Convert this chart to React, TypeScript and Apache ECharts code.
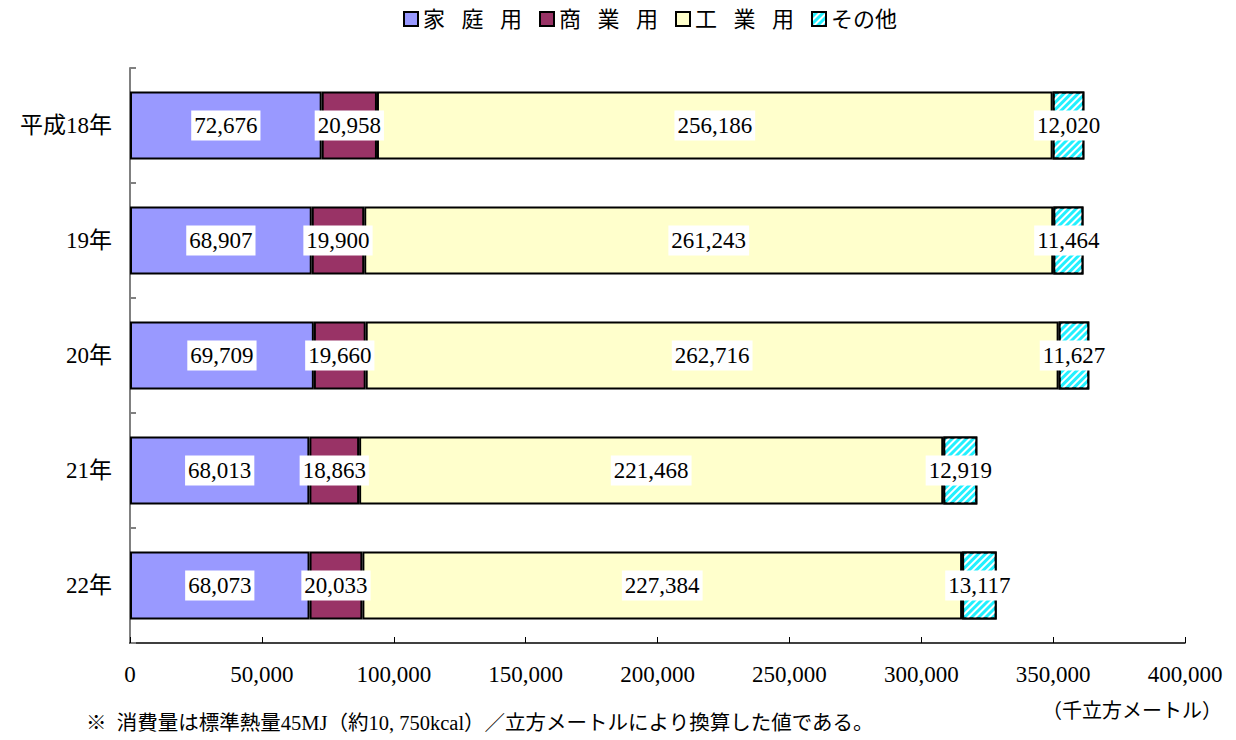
import React, { useEffect, useRef } from "react";
import * as echarts from "echarts";

const categories = ["平成18年", "19年", "20年", "21年", "22年"];
const SP = "\u2002\u2005";
const seriesNames = [`家${SP}庭${SP}用`, `商${SP}業${SP}用`, `工${SP}業${SP}用`, "その他"];
const household = [72676, 68907, 69709, 68013, 68073];
const commercial = [20958, 19900, 19660, 18863, 20033];
const industrial = [256186, 261243, 262716, 221468, 227384];
const other = [12020, 11464, 11627, 12919, 13117];
const colors = ["#9999FF", "#993366", "#FFFFCC", "#22F0FF"];
const unitText = "（千立方メートル）";
const noteText = "※  消費量は標準熱量45MJ（約10, 750kcal）／立方メートルにより換算した値である。";

const FONT = "'Liberation Serif', 'Noto Sans CJK JP', serif";
const fmt = (v: number) => v.toLocaleString("en-US");

export default function App() {
  const ref = useRef<HTMLDivElement>(null);
  useEffect(() => {
    if (!ref.current) return;
    const chart = echarts.init(ref.current, undefined, { renderer: "svg" });
    const dataSets = [household, commercial, industrial, other];
    const series = dataSets.map((d, i) => ({
      name: seriesNames[i],
      type: "bar",
      stack: "total",
      barWidth: 68,
      data: d,
      itemStyle: {
        color: colors[i],
        borderColor: "#000",
        borderWidth: 2,
        ...(i === 3
          ? {
              decal: {
                symbol: "rect",
                symbolSize: 1,
                color: "#ffffff",
                dashArrayX: [1, 0],
                dashArrayY: [1.5, 2.5],
                rotation: -Math.PI / 4,
              },
            }
          : {}),
      },
      label: {
        show: true,
        position: "inside",
        formatter: (p: any) => fmt(p.value),
        color: "#000",
        backgroundColor: "#fff",
        padding: [4, 3, 3, 3],
        fontFamily: FONT,
        fontSize: 23,
      },
    }));
    chart.setOption({
      animation: false,
      textStyle: { fontFamily: FONT },
      legend: {
        top: 3,
        left: 398,
        icon: "rect",
        itemWidth: 14,
        itemHeight: 14,
        itemGap: 17,
        textStyle: { fontSize: 22, color: "#000", fontFamily: FONT },
      },
      grid: { left: 130, right: 51, top: 68, bottom: 97 },
      xAxis: {
        type: "value",
        min: 0,
        max: 400000,
        interval: 50000,
        axisLine: { show: true, lineStyle: { color: "#000", width: 1.5 } },
        axisTick: { show: true, inside: true, length: 6, lineStyle: { color: "#000" } },
        splitLine: { show: false },
        axisLabel: { formatter: (v: number) => fmt(v), fontSize: 23, color: "#000", margin: 20, fontFamily: FONT },
      },
      yAxis: {
        type: "category",
        inverse: true,
        data: categories,
        axisLine: { show: true, lineStyle: { color: "#808080", width: 2 } },
        axisTick: { show: true, inside: true, length: 6, lineStyle: { color: "#808080", width: 2 } },
        axisLabel: { fontSize: 23, color: "#000", margin: 18, fontFamily: FONT },
      },
      graphic: [
        {
          type: "text",
          right: 14,
          top: 701,
          style: { text: unitText, fontSize: 20, fill: "#000", fontFamily: FONT },
        },
        {
          type: "text",
          left: 86,
          top: 713,
          style: { text: noteText, fontSize: 20.5, fill: "#000", fontFamily: FONT },
        },
      ],
      series,
    });
    return () => chart.dispose();
  }, []);
  return <div ref={ref} style={{ width: 1236, height: 740, position: "absolute", left: 0, top: 0 }} />;
}
